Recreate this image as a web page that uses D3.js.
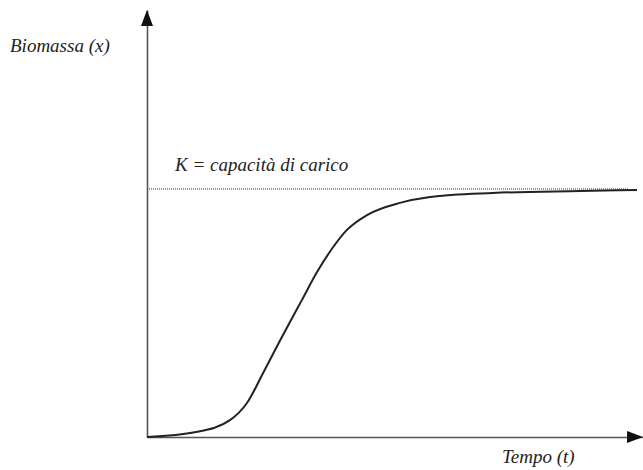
<!DOCTYPE html>
<html>
<head>
<meta charset="utf-8">
<script src="https://cdn.jsdelivr.net/npm/d3@7"></script>
</head>
<body style="margin:0">
<svg width="643" height="470"></svg>
<script>
// logistic growth (biomass as % of K)
var tempo    = [0, 10, 17, 20.4, 23.7, 27.1, 31.6, 34.7, 38, 40.8, 44.9, 51.6, 57.8, 70.6, 88.4, 100];
var biomassa = [0, 2, 6.9, 13.7, 25.8, 38.7, 55.2, 66.5, 76.6, 83.5, 89.5, 94.4, 96.8, 98.4, 99.2, 99.6];
var K = 100;
var labels = {y: "Biomassa (x)", x: "Tempo (t)", k: "K = capacità di carico"};

var svg = d3.select("svg");

var x = d3.scaleLinear().domain([0, 100]).range([147, 637]);
var y = d3.scaleLinear().domain([0, K]).range([437, 189]);

// axis extents, beyond the data range (to the arrow tips)
var xMax = x.invert(643), yMax = y.invert(10);

var xAxis = d3.axisBottom(x.copy().domain([0, xMax]).range([147, 643])).ticks(0).tickSizeOuter(0);
var yAxis = d3.axisLeft(y.copy().domain([0, yMax]).range([437, 10])).ticks(0).tickSizeOuter(0);

svg.append("g").attr("transform", "translate(0," + y(0) + ")").call(xAxis)
    .select(".domain").attr("stroke", "#555").attr("stroke-width", 1.6);
svg.append("g").attr("transform", "translate(" + x(0) + ",0)").call(yAxis)
    .select(".domain").attr("stroke", "#555").attr("stroke-width", 1.6);

// arrow heads
svg.append("path")
    .attr("d", "M" + x(0) + ",10 L" + (x(0) - 6) + ",26 L" + (x(0) + 6) + ",26 Z")
    .attr("fill", "#111");
svg.append("path")
    .attr("d", "M643," + y(0) + " L627," + (y(0) - 6) + " L627," + (y(0) + 6) + " Z")
    .attr("fill", "#111");

// carrying capacity
svg.append("line")
    .attr("x1", x(0) + 2).attr("x2", 628)
    .attr("y1", y(K)).attr("y2", y(K))
    .attr("stroke", "#333").attr("stroke-width", 1)
    .attr("stroke-dasharray", "1,1");

var line = d3.line()
    .x(function (d, i) { return x(tempo[i]); })
    .y(function (d) { return y(d); })
    .curve(d3.curveMonotoneX);

svg.append("path")
    .datum(biomassa)
    .attr("d", line)
    .attr("fill", "none")
    .attr("stroke", "#222")
    .attr("stroke-width", 2);

// labels, serif italic
var pos = [[10, 52, labels.y], [175, 171, labels.k], [502, 463, labels.x]];
svg.append("g").attr("class", "labels")
    .selectAll("text")
    .data(pos)
    .enter()
    .append("text")
    .attr("x", function (d) { return d[0]; })
    .attr("y", function (d) { return d[1]; })
    .style("font-family", "'Liberation Serif'")
    .style("font-style", "italic")
    .style("font-size", "19px")
    .style("fill", "#222")
    .text(function (d) { return d[2]; });
</script>
</body>
</html>
